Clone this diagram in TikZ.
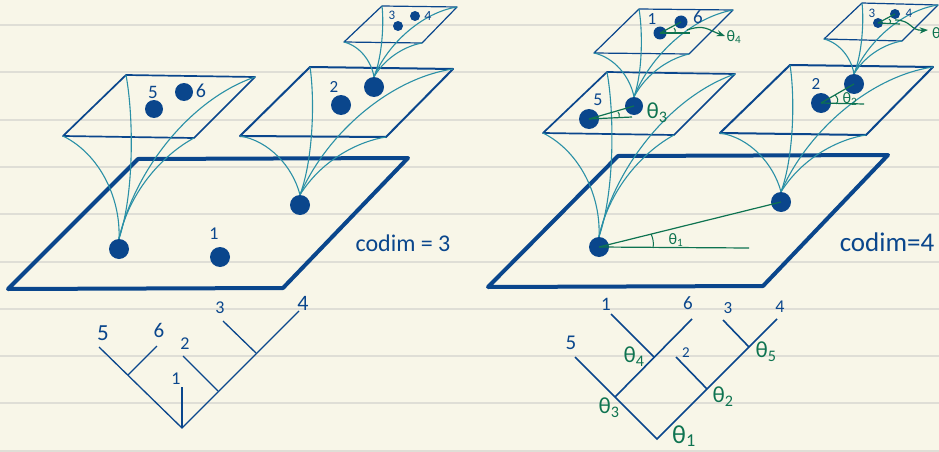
\documentclass[tikz,border=0pt]{standalone}
\usepackage{fontspec}
\setmainfont{Carlito}
\usepackage{xcolor}
\usetikzlibrary{positioning,arrows.meta,calc}
\definecolor{skPaper}{HTML}{F8F6E8}
\definecolor{skRule}{HTML}{DFDED6}
\definecolor{skBlue}{HTML}{0A468C}
\definecolor{skTeal}{HTML}{2A90A6}
\definecolor{skGreen}{HTML}{0E7350}
\newcommand{\fs}[1]{\fontsize{#1}{#1}\selectfont}
\tikzset{
  sk-edge/.style={draw=skBlue, line join=round},
  sk-vein/.style={draw=skTeal, line width=1.1pt},
  sk-dot-l/.style={circle, fill=skBlue, inner sep=0pt, minimum size=20pt},
  sk-dot-m/.style={circle, fill=skBlue, inner sep=0pt, minimum size=13pt},
  sk-dot-s/.style={circle, fill=skBlue, inner sep=0pt, minimum size=10pt},
  sk-tree/.style={draw=skBlue, line width=1.3pt},
  sk-tree-b/.style={draw=skBlue, line width=1.6pt},
  sk-ang/.style={draw=skGreen, line width=1.2pt},
  sk-turn/.style={draw=skGreen, line width=1pt},
  sk-wig/.style={-Stealth, draw=skGreen, line width=1.2pt},
  sk-num/.style={text=skBlue, inner sep=0pt},
  sk-th/.style={text=skGreen, inner sep=0pt, font=\fs{23}},
  sk-th-s/.style={text=skGreen, inner sep=0pt, font=\fs{16}},
  sk-codim/.style={text=skBlue, inner sep=0pt}
}
% corners: front left, back left, back right, front right
\newcommand{\sheet}[6]{
  \coordinate (#1fl) at #2;
  \coordinate (#1bl) at #3;
  \coordinate (#1br) at #4;
  \coordinate (#1fr) at #5;
  \draw[sk-edge, line width=#6] (#1fl) -- (#1bl) -- (#1br) -- (#1fr) -- cycle;
}
\newcommand{\veins}[2]{
  \draw[sk-vein] (#1fl) .. controls ($(#1fl)!.35!35:(#2.north)$) and ($(#2.north)!.35!-31:(#1fl)$) .. (#2.north);
  \draw[sk-vein] (#1bl) .. controls ($(#1bl)!.25!13:(#2.north)$) and ($(#2.north)!.3!-16:(#1bl)$) .. (#2.north);
  \draw[sk-vein] (#1br) .. controls ($(#1br)!.32!-31:(#2.north)$) and ($(#2.north)!.34!27:(#1br)$) .. (#2.north);
  \draw[sk-vein] (#1fr) .. controls ($(#1fr)!.26!-25:(#2.north)$) and ($(#2.north)!.41!24:(#1fr)$) .. (#2.north);
}
\begin{document}
\begin{tikzpicture}[x=1pt,y=-1pt]
\useasboundingbox (0,0) rectangle (939,452);
\clip (0,0) rectangle (939,452);
\fill[skPaper] (0,0) rectangle (939,452);
\foreach \ry in {25,72,120,167,214,262,309,356,403,451}
  \draw[skRule, line width=1.3pt] (0,\ry) -- (939,\ry);

% left: codim 3
\sheet{la}{(8,289)}{(138,159)}{(408,158)}{(283,288)}{4pt}
\sheet{lb}{(63,136)}{(126,75)}{(255,77)}{(194,138)}{1.7pt}
\sheet{lc}{(240,136)}{(310,67)}{(453,69)}{(386,137)}{2pt}
\sheet{ld}{(344,42)}{(382,6)}{(457,7)}{(422,43)}{1.2pt}

\node[sk-dot-l] (lbase) at (119,249) {};
\node[sk-dot-l] (lone) at (220,257) {};
\node[sk-dot-l] (lmid) at (300,205) {};
\node[sk-dot-m, minimum size=18pt] (lfive) at (154,109) {};
\node[sk-dot-m, minimum size=18pt] (lsix) at (184,92) {};
\node[sk-dot-l] (ltwo) at (341,105) {};
\node[sk-dot-l] (lup) at (374,87) {};
\node[sk-dot-s] (lthree) at (398,26) {};
\node[sk-dot-s] (lfour) at (415,16) {};

\veins{lb}{lbase}
\veins{lc}{lmid}
\veins{ld}{lup}

\node[sk-num, font=\fs{19}] (nfive) at (153,92) {5};
\node[sk-num, font=\fs{20}] (nsix) at (201,91) {6};
\node[sk-num, font=\fs{18}] (none) at (214,234) {1};
\node[sk-num, font=\fs{17}] (ntwo) at (334,87) {2};
\node[sk-num, font=\fs{13}] (nthree) at (392,15) {3};
\node[sk-num, font=\fs{14}] (nfour) at (428,16) {4};
\node[sk-codim, font=\fs{24}] (cthree) at (403,243) {codim = 3};

% left tree
\coordinate (troot) at (182,428);
\coordinate (tj56) at (128,375);
\coordinate (tj2) at (218,391);
\coordinate (tj3) at (256,353);
\coordinate (te5) at (99,347);
\coordinate (te6) at (157,346);
\coordinate (te1) at (182,387);
\coordinate (te2) at (183,356);
\coordinate (te3) at (223,321);
\coordinate (te4) at (299,311);
\draw[sk-tree] (te5) -- (troot) -- (te4);
\draw[sk-tree] (tj56) -- (te6);
\draw[sk-tree] (troot) -- (te1);
\draw[sk-tree] (tj2) -- (te2);
\draw[sk-tree] (tj3) -- (te3);
\node[sk-num, font=\fs{23}] (t5) at (103,333) {5};
\node[sk-num, font=\fs{21}] (t6) at (159,330) {6};
\node[sk-num, font=\fs{18}] (t2) at (185,344) {2};
\node[sk-num, font=\fs{18}] (t1) at (176,379) {1};
\node[sk-num, font=\fs{18}] (t3) at (220,308) {3};
\node[sk-num, font=\fs{22}] (t4) at (303,303) {4};

% right: codim 4
\sheet{ra}{(488,287)}{(618,156)}{(888,155)}{(763,286)}{4pt}
\sheet{rb}{(543,133)}{(607,72)}{(735,74)}{(674,135)}{1.7pt}
\sheet{rc}{(720,133)}{(790,65)}{(933,67)}{(866,135)}{2pt}
\sheet{rd}{(594,53)}{(639,9)}{(733,10)}{(689,54)}{1.2pt}
\sheet{re}{(824,39)}{(862,3)}{(938,5)}{(902,41)}{1.2pt}

\node[sk-dot-l] (rbase) at (599,247) {};
\node[sk-dot-l] (rmid) at (781,202) {};
\node[sk-dot-l] (rfive) at (589,119) {};
\node[sk-dot-m, minimum size=18pt] (rup) at (634,106) {};
\node[sk-dot-m] (rone) at (660,33) {};
\node[sk-dot-m] (rsix) at (681,22) {};
\node[sk-dot-l] (rtwo) at (821,103) {};
\node[sk-dot-l] (rtop) at (854,84) {};
\node[sk-dot-s] (rthree) at (878,23) {};
\node[sk-dot-s] (rfour) at (895,14) {};

\veins{rb}{rbase}
\veins{rc}{rmid}
\veins{rd}{rup}
\veins{re}{rtop}

% angles
\coordinate (hbase) at (749,248);
\coordinate (hfive) at (632,117);
\coordinate (hone) at (690,33);
\coordinate (htwo) at (864,104);
\coordinate (hthree) at (900,24);
\draw[sk-ang] (rbase.center) -- (rmid.center);
\draw[sk-ang] (rbase.center) -- (hbase);
\draw[sk-ang] (rfive.center) -- (rup.center);
\draw[sk-ang] (rfive.center) -- (hfive);
\draw[sk-ang] (rone.center) -- (rsix.center);
\draw[sk-ang] (rone.center) -- (hone);
\draw[sk-ang] (rtwo.center) -- (rtop.center);
\draw[sk-ang] (rtwo.center) -- (htwo);
\draw[sk-ang] (rthree.center) -- (rfour.center);
\draw[sk-ang] (rthree.center) -- (hthree);
\draw[sk-turn] (653,248) .. controls (654,243) and (653,238) .. (651,234);
\draw[sk-turn] (619,117) .. controls (620,115) and (619,113) .. (618,112);
\draw[sk-turn] (675,33) .. controls (676,31) and (675,29) .. (674,28);
\draw[sk-turn] (836,104) .. controls (839,101) and (838,98) .. (835,95);
\draw[sk-turn] (890,23) .. controls (891,22) and (891,20) .. (889,19);

\coordinate (wone) at (687,30);
\coordinate (wthree) at (895,20);
\node[sk-th-s] (thfour) at (734,37) {θ\textsubscript{4}};
\node[sk-th-s, anchor=west] (thlast) at (932,33) {θ};
\draw[sk-wig] (wone) .. controls (705,24) and (708,30) .. (725,36);
\draw[sk-wig] (wthree) .. controls (912,20) and (910,31) .. (928,30);
\node[sk-th] (ththree) at (657,113) {θ\textsubscript{3}};
\node[sk-th-s] (thtwo) at (850,99) {θ\textsubscript{2}};
\node[sk-th-s] (thone) at (676,240) {θ\textsubscript{1}};

\node[sk-num, font=\fs{18}] (rn5) at (598,100) {5};
\node[sk-num, font=\fs{17}] (rn1) at (652,19) {1};
\node[sk-num, font=\fs{19}] (rn6) at (698,17) {6};
\node[sk-num, font=\fs{17}] (rn2) at (816,84) {2};
\node[sk-num, font=\fs{13}] (rn3) at (872,13) {3};
\node[sk-num, font=\fs{13}] (rn4) at (909,13) {4};
\node[sk-codim, font=\fs{27}] (cfour) at (887,242) {codim=4};

% right tree
\coordinate (uroot) at (657,439);
\coordinate (uj3) at (615,397);
\coordinate (uj4) at (654,357);
\coordinate (uj2) at (707,389);
\coordinate (uj5) at (749,347);
\coordinate (ue5) at (575,357);
\coordinate (ue1) at (611,314);
\coordinate (ue6) at (692,319);
\coordinate (ue2) at (676,357);
\coordinate (ue3) at (723,320);
\coordinate (ue4) at (777,319);
\draw[sk-tree-b] (ue5) -- (uroot) -- (ue4);
\draw[sk-tree-b] (uj3) -- (ue6);
\draw[sk-tree-b] (uj4) -- (ue1);
\draw[sk-tree-b] (uj2) -- (ue2);
\draw[sk-tree-b] (uj5) -- (ue3);
\node[sk-num, font=\fs{21}] (u5) at (571,343) {5};
\node[sk-num, font=\fs{19}] (u1) at (606,304) {1};
\node[sk-num, font=\fs{19}] (u6) at (688,303) {6};
\node[sk-num, font=\fs{15}] (u2) at (686,353) {2};
\node[sk-num, font=\fs{17}] (u3) at (728,308) {3};
\node[sk-num, font=\fs{18}] (u4) at (780,307) {4};
\node[sk-th] (uth4) at (634,357) {θ\textsubscript{4}};
\node[sk-th] (uth3) at (609,408) {θ\textsubscript{3}};
\node[sk-th] (uth2) at (723,397) {θ\textsubscript{2}};
\node[sk-th] (uth5) at (766,352) {θ\textsubscript{5}};
\node[sk-th, font=\fs{26}] (uth1) at (684,436) {θ\textsubscript{1}};
\end{tikzpicture}
\end{document}
